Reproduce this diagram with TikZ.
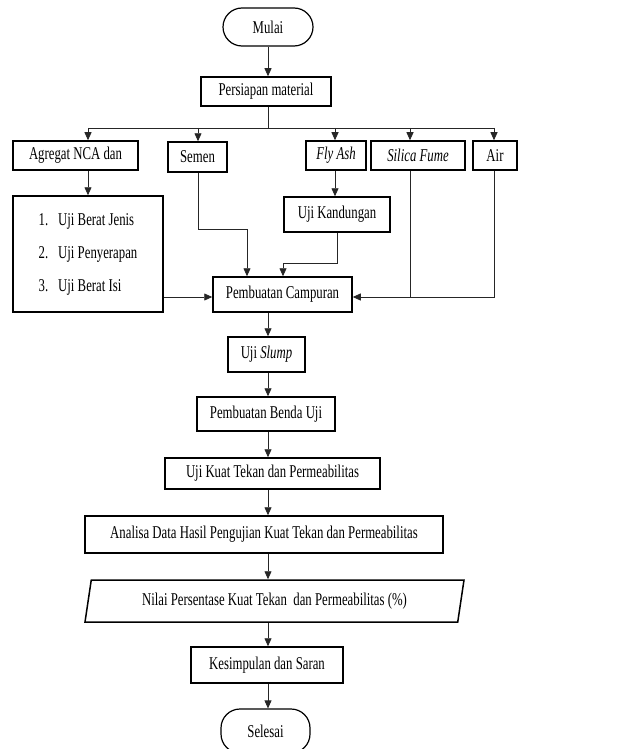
\documentclass[tikz,border=0pt]{standalone}
\usepackage{fontspec}
\setmainfont{Liberation Serif}[FakeStretch=0.71]
\usetikzlibrary{arrows.meta,shapes.geometric}

\begin{document}
\begin{tikzpicture}[x=1pt,y=-1pt, font=\fontsize{18}{21}\selectfont,
    box/.style={draw, line width=1.5pt, inner sep=0pt},
    term/.style={box, rounded corners=19pt, line width=1.2pt},
    line/.style={line width=0.8pt, black!85},
    conn/.style={line, -{Triangle[length=8pt,width=7pt]}}]
    \useasboundingbox (0,0) rectangle (624,749);

    % guide lines
    \coordinate (spine) at (268,0);
    \coordinate (bus) at (0,128);
    \coordinate (yin) at (0,297);
    \coordinate (xa) at (88,0);
    \coordinate (xs) at (198,0);
    \coordinate (xf) at (335,0);
    \coordinate (xsf) at (410,0);
    \coordinate (xair) at (494,0);
    \coordinate (sm) at (247,229);
    \coordinate (kd) at (283,263);

    \node[term, minimum width=90pt, minimum height=38pt] (mulai) at (268,27) {Mulai};
    \node[box, minimum width=130pt, minimum height=29pt] (persiapan) at (266,91.5) {Persiapan material};

    \node[box, minimum width=125pt, minimum height=29pt] (agregat) at (75.5,155.5) {Agregat NCA dan};
    \node[box, minimum width=59pt, minimum height=30pt] (semen) at (197.5,157) {Semen};
    \node[box, minimum width=60pt, minimum height=29pt] (flyash) at (336,155.5) {\textit{Fly Ash}};
    \node[box, minimum width=94pt, minimum height=29pt] (silica) at (418,155.5) {\textit{Silica Fume}};
    \node[box, minimum width=44pt, minimum height=29pt] (air) at (495,155.5) {Air};

    \node[box, minimum width=150pt, minimum height=116pt] (ujilist) at (88,254)
        {\begin{tabular}{@{}l@{\hspace{10pt}}l@{}}
            1. & Uji Berat Jenis\\[12pt]
            2. & Uji Penyerapan\\[12pt]
            3. & Uji Berat Isi
        \end{tabular}};
    \node[box, minimum width=106pt, minimum height=35pt] (kandungan) at (337,214.5) {Uji Kandungan};

    \node[box, minimum width=139pt, minimum height=35pt] (pembuatan) at (282.5,294.5) {Pembuatan Campuran};
    \node[box, minimum width=77pt, minimum height=35pt] (slump) at (266.5,354.5) {Uji \textit{Slump}};
    \node[box, minimum width=138pt, minimum height=34pt] (benda) at (266,414) {Pembuatan Benda Uji};
    \node[box, minimum width=215pt, minimum height=31pt] (kuat) at (272.5,473.5) {Uji Kuat Tekan dan Permeabilitas};
    \node[box, minimum width=358pt, minimum height=37pt] (analisa) at (264,534.5) {Analisa Data Hasil Pengujian Kuat Tekan dan Permeabilitas};
    \node[box, trapezium, trapezium left angle=69, trapezium right angle=111, trapezium stretches body,
        minimum width=379pt, minimum height=42pt] (nilai) at (274.5,601)
        {Nilai Persentase Kuat Tekan~ dan Permeabilitas (\%)};
    \node[box, minimum width=152pt, minimum height=36pt] (kesimpulan) at (267,665) {Kesimpulan dan Saran};
    \node[term, minimum width=89pt, minimum height=44pt] (selesai) at (265.5,731) {Selesai};

    % material branches
    \draw[conn] (mulai.south -| spine) -- (persiapan.north -| spine);
    \draw[line] (persiapan.south -| spine) -- (bus -| spine);
    \draw[line] (bus -| xa) -- (bus -| xair);
    \foreach \c/\n in {xa/agregat, xs/semen, xf/flyash, xsf/silica, xair/air}
        \draw[conn] (bus -| \c) -- (\c |- \n.north);
    \draw[conn] (xa |- agregat.south) -- (xa |- ujilist.north);
    \draw[conn] (xf |- flyash.south) -- (xf |- kandungan.north);

    % into the mix
    \draw[conn] (xs |- semen.south) |- (sm) -- (sm |- pembuatan.north);
    \draw[conn] (kandungan.south) |- (kd) -- (kd |- pembuatan.north);
    \draw[conn] (ujilist.east |- yin) -- (pembuatan.west |- yin);
    \draw[line] (xsf |- silica.south) -- (xsf |- yin);
    \draw[conn] (xair |- air.south) |- (pembuatan.east |- yin);

    % main line
    \foreach \a/\b in {pembuatan/slump, slump/benda, benda/kuat, kuat/analisa,
        analisa/nilai, nilai/kesimpulan, kesimpulan/selesai}
        \draw[conn] (\a.south -| spine) -- (\b.north -| spine);
\end{tikzpicture}
\end{document}
